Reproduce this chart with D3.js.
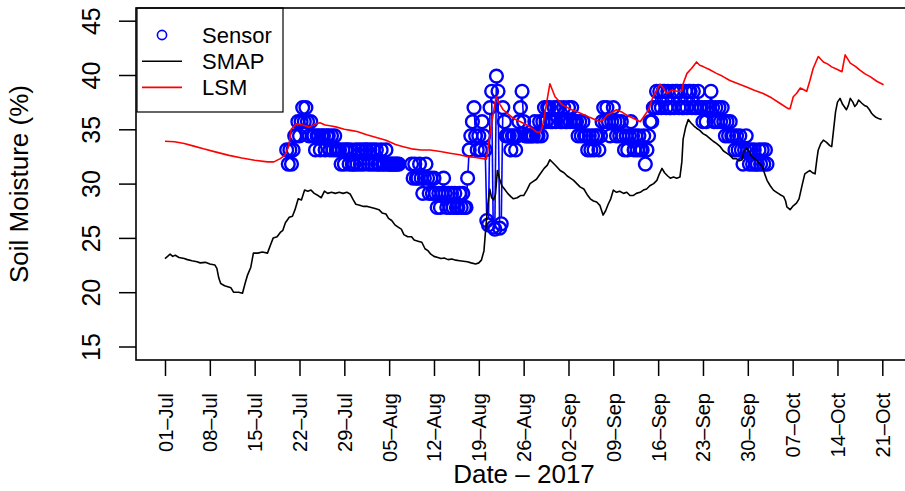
<!DOCTYPE html>
<html>
<head>
<meta charset="utf-8">
<script src="https://cdn.jsdelivr.net/npm/d3@7"></script>
<style>
  body { margin: 0; background: #fff; }
  text { font-family: "Liberation Sans", Arial, Helvetica, sans-serif; }
</style>
</head>
<body>
<div id="chart"></div>
<script>
// ---- data (days counted from 01-Jul-2017) ----
const tickLabels = ["01–Jul", "08–Jul", "15–Jul", "22–Jul", "29–Jul", "05–Aug", "12–Aug", "19–Aug",
  "26–Aug", "02–Sep", "09–Sep", "16–Sep", "23–Sep", "30–Sep", "07–Oct", "14–Oct", "21–Oct"];
const yTicks = [15, 20, 25, 30, 35, 40, 45];

// Sensor: one reading every 6 h starting at day 19, null = no data (one row per day)
const sensorStart = 19;
const sensorStep = 0.25;
const sensorVals = [
  33.1, 31.8, 33.1, 31.8,
  33.1, 34.4, 34.4, 35.7,
  34.4, 35.7, 37.0, 35.7,
  37.0, 35.7, 34.4, 35.7,
  34.4, 34.4, 33.1, 34.4,
  34.4, 33.1, 34.4, 34.4,
  33.1, 34.4, 34.4, 33.1,
  34.4, 33.1, 34.4, 33.1,
  33.1, 33.1, 31.8, 33.1,
  31.8, 33.1, 33.1, 31.8,
  33.1, 31.8, 31.8, 33.1,
  31.8, 33.1, 31.8, 33.1,
  31.8, 33.1, 33.1, 31.8,
  33.1, 31.8, 33.1, 31.8,
  33.1, 31.8, 31.8, 33.1,
  31.8, 31.8, 33.1, 31.8,
  31.8, 31.8, 31.8, 31.8,
  31.8, 31.8, 31.8, null,
  null, null, null, null,
  null, null, 31.8, 30.5,
  31.8, 30.5, 30.5, 31.8,
  30.5, 29.1, 30.5, 31.8,
  30.5, 29.1, 30.5, 29.1,
  30.5, 29.1, 27.8, 29.1,
  27.8, 29.1, 30.5, 29.1,
  27.8, 29.1, 27.8, 29.1,
  27.8, 29.1, 27.8, 27.8,
  29.1, 27.8, 29.1, 27.8,
  27.8, 30.5, 33.1, 34.4,
  35.7, 37.0, 34.4, 33.1,
  34.4, 33.1, 35.7, 34.4,
  33.1, 26.6, 26.2, 37.0,
  38.5, 26.0, 25.8, 39.9,
  38.5, 25.9, 26.3, 37.0,
  35.7, 34.4, 34.4, 34.4,
  33.1, 34.4, 34.4, 33.1,
  34.4, 35.7, 37.0, 38.5,
  35.7, 34.4, 34.4, 34.4,
  34.4, 34.4, 34.4, 35.7,
  34.4, 34.4, 35.7, 34.4,
  35.7, 37.0, 35.7, 37.0,
  37.0, 35.7, 35.7, 37.0,
  35.7, 37.0, 37.0, 35.7,
  35.7, 37.0, 35.7, 35.7,
  37.0, 35.7, 37.0, 35.7,
  35.7, 35.7, 34.4, 35.7,
  34.4, 35.7, 34.4, 34.4,
  33.1, 34.4, 33.1, 34.4,
  33.1, 34.4, 34.4, 33.1,
  34.4, 35.7, 37.0, 35.7,
  37.0, 35.7, 34.4, 35.7,
  37.0, 35.7, 34.4, 35.7,
  34.4, 35.7, 34.4, 33.1,
  34.4, 33.1, 34.4, 35.7,
  34.4, 33.1, 34.4, 33.1,
  34.4, 33.1, 33.1, 34.4,
  31.8, 33.1, 34.4, 35.7,
  35.7, 37.0, 37.0, 38.5,
  37.0, 38.5, 37.0, 38.5,
  38.5, 37.0, 38.5, 37.0,
  37.0, 38.5, 37.0, 38.5,
  38.5, 37.0, 38.5, 37.0,
  37.0, 38.5, 37.0, 38.5,
  38.5, 37.0, 38.5, 37.0,
  37.0, 38.5, 37.0, 37.0,
  35.7, 37.0, 35.7, 37.0,
  37.0, 38.5, 37.0, 35.7,
  37.0, 35.7, 37.0, 35.7,
  37.0, 35.7, 34.4, 35.7,
  34.4, 35.7, 34.4, 34.4,
  33.1, 34.4, 33.1, 34.4,
  33.1, 31.8, 33.1, 34.4,
  33.1, 31.8, 33.1, 31.8,
  33.1, 31.8, 31.8, 33.1,
  31.8, 33.1, 31.8, 33.1,
  31.8
];

const smapDays = [0, 0.8, 1.2, 1.6, 2.2, 3, 3.5, 4.2, 5, 5.5, 6.3, 7, 7.8, 8.1, 8.4, 8.7, 9.3, 9.8, 10.3, 10.7,
  11.5, 12.1, 12.5, 12.9, 13.4, 13.8, 14.5, 15.2, 16, 16.5, 16.9, 17.5, 18, 18.4, 18.8, 19.4, 19.9, 20.3, 20.8, 21.3,
  21.8, 22.3, 22.8, 23.3, 23.9, 24.4, 24.9, 25.4, 26, 26.6, 27.2, 27.8, 28.4, 28.9, 29.4, 29.8, 30.4, 31, 31.6, 32.2,
  32.8, 33.4, 33.9, 34.5, 34.9, 35.4, 35.9, 36.4, 36.9, 37.3, 37.9, 38.5, 38.9, 39.5, 40.1, 40.6, 41.1, 41.5, 42, 42.6,
  43.1, 43.6, 44.2, 44.8, 45.4, 46, 46.6, 47.2, 47.8, 48.5, 49, 49.4, 49.8, 50.1, 50.4, 50.7, 51, 51.3, 51.6, 51.9,
  52.2, 52.6, 53, 53.5, 54, 54.4, 55, 55.5, 56, 56.5, 57, 57.5, 58, 58.6, 59.2, 59.7, 60.1, 60.6, 61.1, 61.7,
  62.3, 62.8, 63.3, 63.8, 64.3, 64.8, 65.4, 65.9, 66.4, 66.9, 67.4, 67.9, 68.4, 68.8, 69.2, 69.6, 70, 70.5, 71, 71.6,
  72.1, 72.6, 73.1, 73.6, 74.2, 74.7, 75.2, 75.7, 76.3, 76.8, 77.2, 77.6, 78, 78.5, 78.9, 79.4, 79.9, 80.4, 80.7, 80.9,
  81.3, 81.7, 82.1, 82.6, 83, 83.5, 84, 84.6, 85.1, 85.6, 86.1, 86.7, 87.2, 87.7, 88.2, 88.7, 89.2, 89.7, 90.1, 90.4,
  90.8, 91.2, 91.6, 92, 92.4, 92.9, 93.3, 93.7, 94, 94.5, 95, 95.5, 96, 96.6, 96.9, 97.1, 97.6, 98, 98.6, 99,
  99.5, 99.9, 100.4, 100.7, 101.1, 101.5, 101.8, 102, 102.4, 102.8, 103.3, 103.8, 104.1, 104.4, 104.7, 105, 105.4, 105.8, 106.4, 106.7,
  107, 107.4, 107.7, 108, 108.3, 108.8, 109.2, 109.6, 110, 110.3, 110.6, 111, 111.4, 111.9];
const smapVals = [23.1, 23.5, 23.3, 23.4, 23.2, 23.1, 23.0, 22.9, 22.8, 22.7, 22.75, 22.6, 22.5, 22.2, 21.3, 20.8, 20.6, 20.5, 20.4, 20.0,
  20.0, 19.9, 20.8, 21.6, 22.3, 23.6, 23.6, 23.7, 23.6, 24.4, 25.0, 25.1, 25.5, 25.7, 26.4, 26.9, 27.0, 27.6, 28.6, 28.5,
  29.4, 29.3, 29.4, 29.1, 28.9, 28.7, 29.3, 29.1, 29.2, 29.1, 29.2, 29.1, 29.2, 29.05, 28.5, 28.1, 28.0, 27.9, 27.9, 27.8,
  27.7, 27.6, 27.3, 27.2, 26.8, 26.6, 26.2, 26.0, 25.8, 25.3, 25.1, 25.1, 24.8, 24.7, 24.6, 24.0, 23.8, 23.5, 23.3, 23.2,
  23.1, 23.15, 23.0, 23.05, 22.95, 22.9, 22.85, 22.8, 22.7, 22.6, 22.7, 22.95, 23.8, 26.0, 28.0, 29.5, 28.7, 28.5, 29.0, 31.2,
  30.5, 29.8, 29.5, 29.1, 28.8, 28.6, 28.7, 28.9, 28.9, 29.4, 30.0, 30.2, 30.4, 30.9, 31.4, 31.7, 32.2, 31.9, 31.6, 31.2,
  31.0, 30.7, 30.5, 30.3, 30.0, 29.7, 29.5, 29.0, 28.6, 28.4, 28.3, 28.0, 27.1, 27.5, 28.1, 28.6, 29.4, 29.2, 29.3, 29.1,
  29.2, 28.9, 28.9, 29.1, 29.2, 29.4, 29.5, 29.8, 30.0, 30.3, 30.9, 31.4, 31.0, 30.7, 30.5, 30.6, 30.5, 30.6, 32.0, 34.1,
  35.2, 35.9, 35.6, 35.3, 35.1, 34.9, 34.6, 34.4, 34.15, 33.9, 33.7, 33.4, 33.0, 32.8, 32.6, 32.3, 32.3, 32.1, 32.2, 33.0,
  33.25, 33.0, 32.5, 32.3, 32.15, 31.8, 31.5, 30.8, 30.3, 29.8, 29.4, 29.2, 29.0, 28.8, 28.4, 27.85, 27.6, 27.9, 28.2, 28.6,
  29.9, 30.9, 31.1, 31.2, 31.0, 30.9, 32.3, 33.1, 33.7, 34.0, 33.8, 33.5, 33.4, 35.0, 36.6, 37.5, 37.85, 37.3, 36.8, 37.2,
  37.85, 37.5, 37.1, 37.3, 37.7, 37.4, 37.2, 37.1, 36.8, 36.5, 36.3, 36.1, 36.0, 35.9];

const lsmDays = [0, 1.5, 3, 4.5, 6, 8, 10, 12, 14, 16, 17, 18, 18.7, 19.3, 19.7, 20.5, 21.5, 22.5, 23.5, 24.2,
  25, 26, 26.8, 28, 29, 30, 31.5, 33, 34.5, 36, 37.2, 38.5, 40, 41.4, 43, 44.5, 46, 47.1, 48.5, 50.2,
  50.9, 51.7, 52.3, 52.8, 53.6, 54.4, 55.5, 56.5, 57.5, 58.2, 58.7, 59.1, 59.6, 60.1, 60.5, 60.9, 61.5, 62.2, 63.5, 64.8,
  66.3, 67.9, 68.5, 69, 69.7, 70.5, 71.3, 72.1, 73.2, 74.2, 74.8, 75.5, 76.2, 76.8, 77.3, 77.8, 78.3, 79.1, 80, 80.7,
  80.9, 81.5, 82.2, 83, 83.5, 84.1, 85, 86.1, 87, 88.2, 89.5, 90.8, 92, 93.4, 94.7, 96, 97.3, 97.6, 98.1, 98.6,
  99.2, 100.2, 100.7, 101.2, 102, 102.8, 103.5, 104.1, 105, 105.7, 106.2, 107, 107.8, 108.5, 109.3, 110.1, 111.2, 112.2];
const lsmVals = [33.9, 33.85, 33.7, 33.45, 33.2, 32.9, 32.6, 32.35, 32.15, 32.0, 32.0, 32.3, 32.6, 33.4, 35.0, 35.5, 35.4, 35.2, 35.5, 35.6,
  35.4, 35.3, 35.2, 35.0, 34.9, 34.8, 34.5, 34.25, 34.0, 33.6, 33.4, 33.2, 33.1, 33.1, 32.95, 32.8, 32.65, 32.5, 32.4, 32.25,
  35.2, 38.0, 37.3, 36.8, 36.4, 36.0, 35.7, 35.4, 35.0, 34.7, 34.8, 35.7, 37.5, 39.2, 38.6, 38.0, 37.6, 37.2, 36.8, 36.5,
  36.1, 35.7, 35.9, 36.3, 36.5, 36.8, 36.6, 36.3, 36.0, 35.7, 36.2, 36.8, 38.0, 38.6, 39.15, 38.8, 38.3, 38.6, 38.5, 38.5,
  39.2, 40.15, 40.6, 41.2, 40.9, 40.75, 40.5, 40.15, 39.9, 39.5, 39.2, 38.9, 38.6, 38.3, 37.9, 37.4, 36.9, 36.9, 38.0, 38.3,
  38.8, 38.5, 39.5, 40.6, 41.7, 41.2, 41.0, 40.75, 40.5, 40.3, 41.85, 41.1, 40.8, 40.45, 40.1, 39.85, 39.4, 39.1];

// ---- layout ----
const width = 905, height = 491;
const plot = { left: 136, top: 8, right: 912, bottom: 360 };
const day0 = Date.UTC(2017, 6, 1);
const toDate = d => new Date(day0 + d * 864e5);

const svg = d3.select("#chart").append("svg")
  .attr("width", width)
  .attr("height", height)
  .attr("viewBox", [0, 0, width, height]);

const x = d3.scaleUtc()
  .domain([toDate(0), toDate(112)])
  .range([165, 882.3]);

const y = d3.scaleLinear()
  .domain([15, 45])
  .range([346.5, 20.7]);

const sensor = sensorVals.map((v, i) => ({ date: toDate(sensorStart + i * sensorStep), v }));
const smap = smapDays.map((d, i) => ({ date: toDate(d), v: smapVals[i] }));
const lsm = lsmDays.map((d, i) => ({ date: toDate(d), v: lsmVals[i] }));

// axes
const tickDates = tickLabels.map((t, i) => toDate(i * 7));

const xAxis = svg.append("g")
  .attr("transform", `translate(0,${plot.bottom})`)
  .call(d3.axisBottom(x).tickValues(tickDates).tickFormat((d, i) => tickLabels[i]).tickSize(16));
xAxis.select(".domain").remove();
xAxis.selectAll(".tick line").attr("stroke", "#000").attr("stroke-width", 1.5);
xAxis.selectAll(".tick text")
  .attr("transform", "rotate(-90)")
  .attr("x", -33).attr("y", 7).attr("dy", 0)
  .attr("text-anchor", "end")
  .attr("fill", "#000")
  .style("font-size", "20px");

const yAxis = svg.append("g")
  .attr("transform", `translate(${plot.left},0)`)
  .call(d3.axisLeft(y).tickValues(yTicks).tickSize(17));
yAxis.select(".domain").remove();
yAxis.selectAll(".tick line").attr("stroke", "#000").attr("stroke-width", 1.5);
yAxis.selectAll(".tick text")
  .attr("transform", "rotate(-90)")
  .attr("x", 0).attr("y", -36).attr("dy", 0)
  .attr("text-anchor", "middle")
  .attr("fill", "#000")
  .style("font-size", "25px");

// titles
svg.append("text")
  .attr("transform", `translate(28,${(plot.top + plot.bottom) / 2}) rotate(-90)`)
  .attr("text-anchor", "middle")
  .style("font-size", "26px")
  .text("Soil Moisture (%)");

svg.append("text")
  .attr("x", (plot.left + plot.right) / 2)
  .attr("y", 483)
  .attr("text-anchor", "middle")
  .style("font-size", "26px")
  .text("Date – 2017");

// sensor: points + connecting segments that stop short of each point (like R type="b")
const gap = 6.5;
const segs = [];
for (let i = 1; i < sensor.length; i++) {
  const a = sensor[i - 1], b = sensor[i];
  if (a.v == null || b.v == null) continue;
  const x1 = x(a.date), y1 = y(a.v), x2 = x(b.date), y2 = y(b.v);
  const len = Math.hypot(x2 - x1, y2 - y1);
  if (len <= 2 * gap) continue;
  const ux = (x2 - x1) / len, uy = (y2 - y1) / len;
  segs.push([x1 + ux * gap, y1 + uy * gap, x2 - ux * gap, y2 - uy * gap]);
}

svg.append("g")
  .selectAll("line")
  .data(segs)
  .join("line")
  .attr("x1", d => d[0]).attr("y1", d => d[1])
  .attr("x2", d => d[2]).attr("y2", d => d[3])
  .attr("stroke", "#0000ff")
  .attr("stroke-width", 1.6);

svg.append("g")
  .selectAll("circle")
  .data(sensor.filter(d => d.v != null))
  .join("circle")
  .attr("cx", d => x(d.date))
  .attr("cy", d => y(d.v))
  .attr("r", 6.4)
  .attr("fill", "none")
  .attr("stroke", "#0000ff")
  .attr("stroke-width", 2.4);

let line = d3.line()
  .x(d => x(d.date))
  .y(d => y(d.v));

svg.append("path")
  .datum(smap)
  .attr("fill", "none")
  .attr("stroke", "#000")
  .attr("stroke-width", 1.6)
  .attr("stroke-linejoin", "round")
  .attr("d", line);

svg.append("path")
  .datum(lsm)
  .attr("fill", "none")
  .attr("stroke", "#ff0000")
  .attr("stroke-width", 1.6)
  .attr("stroke-linejoin", "round")
  .attr("d", line);

// legend
const lg = svg.append("g");
lg.append("rect")
  .attr("x", 137).attr("y", plot.top)
  .attr("width", 146).attr("height", 104)
  .attr("fill", "#fff")
  .attr("stroke", "#000")
  .attr("stroke-width", 1.2);

const legendItems = [
  { name: "Sensor", kind: "circle", color: "#0000ff" },
  { name: "SMAP", kind: "line", color: "#000" },
  { name: "LSM", kind: "line", color: "#ff0000" }
];
legendItems.forEach((it, i) => {
  const cy = 35 + i * 26.2;
  if (it.kind === "circle") {
    lg.append("circle")
      .attr("cx", 162).attr("cy", cy).attr("r", 4.6)
      .attr("fill", "none").attr("stroke", it.color).attr("stroke-width", 1.6);
  } else {
    lg.append("line")
      .attr("x1", 142).attr("x2", 182).attr("y1", cy).attr("y2", cy)
      .attr("stroke", it.color).attr("stroke-width", 1.6);
  }
  lg.append("text")
    .attr("x", 202).attr("y", cy + 7.5)
    .style("font-size", "22px")
    .text(it.name);
});

// plot frame
svg.append("rect")
  .attr("x", plot.left).attr("y", plot.top)
  .attr("width", plot.right - plot.left).attr("height", plot.bottom - plot.top)
  .attr("fill", "none")
  .attr("stroke", "#000")
  .attr("stroke-width", 1.6);
</script>
</body>
</html>
